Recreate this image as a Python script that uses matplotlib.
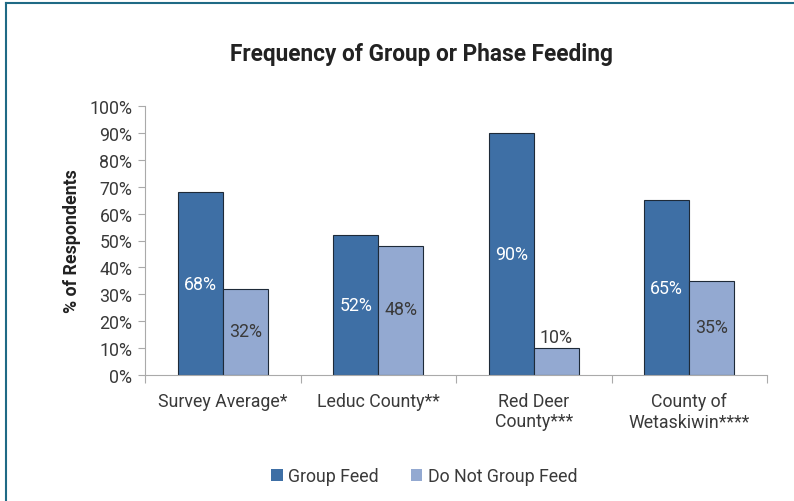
import numpy as np
import matplotlib
matplotlib.use("Agg")
import matplotlib.pyplot as plt
from matplotlib.lines import Line2D

categories = ["Survey Average*", "Leduc County**", "Red Deer\nCounty***", "County of\nWetaskiwin****"]
group_feed = [68, 52, 90, 65]
no_group_feed = [32, 48, 10, 35]
series_names = ["Group Feed", "Do Not Group Feed"]
yticks = [0, 10, 20, 30, 40, 50, 60, 70, 80, 90, 100]

plt.rcParams['font.family'] = ['Roboto', 'DejaVu Sans']

fs = 12.8
txt = "#3a3a3a"

fig = plt.figure(figsize=(7.94, 5.02), dpi=100)
ax = fig.add_axes([145 / 794, 1 - 376 / 502, 622 / 794, 269 / 502])

x = np.arange(len(categories))
w = 0.29
dark = "#3e6fa5"
light = "#93a9d1"
b1 = ax.bar(x - w / 2, group_feed, w, color=dark, edgecolor="#1e2a38", linewidth=0.8, label=series_names[0])
b2 = ax.bar(x + w / 2, no_group_feed, w, color=light, edgecolor="#1e2a38", linewidth=0.8, label=series_names[1])

for rect, v in zip(b1, group_feed):
    ax.text(rect.get_x() + rect.get_width() / 2, v / 2, f"{v}%", ha="center", va="center",
            color="white", fontsize=fs)
for rect, v in zip(b2, no_group_feed):
    ax.text(rect.get_x() + rect.get_width() / 2, v / 2 + 0.5 if v > 15 else v + 4, f"{v}%",
            ha="center", va="center", color=txt, fontsize=fs)

ax.set_xlim(-0.5, len(categories) - 0.5)
ax.set_ylim(0, 100)
ax.set_yticks(yticks)
ax.set_yticklabels([f"{t}%" for t in yticks], fontsize=fs, color=txt)
ax.set_xticks(np.arange(len(categories) + 1) - 0.5, minor=False)
ax.set_xticklabels([])
ax.set_xticks(x, minor=True)
ax.set_xticklabels(categories, minor=True, fontsize=fs, color=txt, linespacing=1.2)
ax.tick_params(axis="x", which="minor", length=0, pad=12)
ax.tick_params(axis="x", which="major", length=6, color="#aaaaaa")
ax.tick_params(axis="y", length=5, color="#aaaaaa", pad=4)
for s in ["top", "right"]:
    ax.spines[s].set_visible(False)
ax.spines["left"].set_color("#aaaaaa")
ax.spines["bottom"].set_color("#aaaaaa")

ax.set_ylabel("% of Respondents", fontsize=12.8, fontweight="bold", color="#222222", labelpad=6)

fig.text(0.531, 1 - 54 / 502, "Frequency of Group or Phase Feeding", ha="center", va="center",
         fontsize=16.3, fontweight="bold", color="#222222")

ax.legend(handles=[b1, b2], loc="center", bbox_to_anchor=(0.449, -0.375), ncol=2, frameon=False,
          prop={"size": fs}, handlelength=0.65, handleheight=0.65,
          handletextpad=0.3, columnspacing=1.8, labelcolor=txt)
for h in ax.get_legend().legend_handles:
    h.set_edgecolor("none")

# frame lines on top and left
fig.add_artist(Line2D([6 / 794, 6 / 794], [0, 1 - 4 / 502], transform=fig.transFigure,
                      color="#1f6a85", linewidth=1.5))
fig.add_artist(Line2D([6 / 794, 1], [1 - 4 / 502, 1 - 4 / 502], transform=fig.transFigure,
                      color="#1f6a85", linewidth=1.5))

fig.savefig("out.png", dpi=100, facecolor="white")
